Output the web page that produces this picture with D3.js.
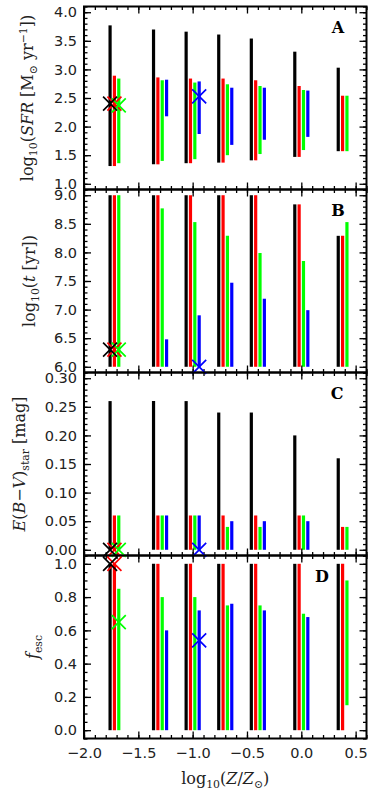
<!DOCTYPE html>
<html>
<head>
<meta charset="utf-8">
<script src="https://cdn.jsdelivr.net/npm/d3@7"></script>
<style>
  body { margin: 0; background: #fff; }
  svg { display: block; }
</style>
</head>
<body>
<svg id="chart" width="382" height="794"></svg>
<script>
// metallicity groups, log10(Z/Zsun), and the 4 model series
const metallicity = [-1.7, -1.3, -1.0, -0.7, -0.4, 0.0, 0.4];
const seriesColors = ["#000000", "#ff0000", "#00ff00", "#0000ff"];
const seriesShift = [-0.06, -0.02, 0.02, 0.06];

// panel A: log10 SFR, [low, high] per metallicity
const sfrBlack = [[1.31,3.77],[1.34,3.70],[1.36,3.66],[1.37,3.61],[1.41,3.54],[1.47,3.31],[1.57,3.03]];
const sfrRed   = [[1.31,2.89],[1.34,2.86],[1.36,2.84],[1.37,2.84],[1.41,2.81],[1.47,2.71],[1.57,2.54]];
const sfrGreen = [[1.36,2.84],[1.40,2.81],[1.43,2.77],[1.50,2.74],[1.52,2.71],[1.59,2.64],[1.57,2.54]];
const sfrBlue  = [null,[2.18,2.82],[1.87,2.79],[1.68,2.68],[1.77,2.68],[1.82,2.63],null];
const sfrMarks = [{s:1,g:0,v:2.40},{s:2,g:0,v:2.37},{s:0,g:0,v:2.40},{s:3,g:2,v:2.53}];

// panel B: log10 age
const ageBlack = [[6,9],[6,9],[6,9],[6,9],[6,9],[6,8.84],[6,8.29]];
const ageRed   = [[6,9],[6,9],[6,9],[6,9],[6,9],[6,8.84],[6,8.29]];
const ageGreen = [[6,9],[6,8.77],[6,8.53],[6,8.29],[6,7.99],[6,7.85],[6,8.53]];
const ageBlue  = [null,[6,6.48],[6,6.90],[6,7.47],[6,7.19],[6,6.99],null];
const ageMarks = [{s:1,g:0,v:6.3},{s:2,g:0,v:6.3},{s:0,g:0,v:6.3},{s:3,g:2,v:6.0}];

// panel C: E(B-V) star
const ebvBlack = [[0,0.26],[0,0.26],[0,0.26],[0,0.24],[0,0.24],[0,0.20],[0,0.16]];
const ebvRed   = [[0,0.06],[0,0.06],[0,0.06],[0,0.06],[0,0.06],[0,0.06],[0,0.04]];
const ebvGreen = [[0,0.06],[0,0.06],[0,0.06],[0,0.04],[0,0.04],[0,0.06],[0,0.04]];
const ebvBlue  = [null,[0,0.06],[0,0.06],[0,0.05],[0,0.05],[0,0.05],null];
const ebvMarks = [{s:1,g:0,v:0},{s:2,g:0,v:0},{s:0,g:0,v:0},{s:3,g:2,v:0}];

// panel D: escape fraction
const fescBlack = [[0,1],[0,1],[0,1],[0,1],[0,1],[0,1],[0,1]];
const fescRed   = [[0,1],[0,1],[0,1],[0,1],[0,1],[0,1],[0,1]];
const fescGreen = [[0,0.85],[0,0.80],[0,0.80],[0,0.75],[0,0.75],[0,0.70],[0.15,0.90]];
const fescBlue  = [null,[0,0.60],[0,0.72],[0,0.76],[0,0.72],[0,0.68],null];
const fescMarks = [{s:1,g:0,v:1.0},{s:2,g:0,v:0.65},{s:0,g:0,v:1.0},{s:3,g:2,v:0.54}];

// tick values
const xTicks = [-2.0, -1.5, -1.0, -0.5, 0.0, 0.5];
const sfrTicks = [1.0, 1.5, 2.0, 2.5, 3.0, 3.5, 4.0];
const ageTicks = [6.0, 6.5, 7.0, 7.5, 8.0, 8.5, 9.0];
const ebvTicks = [0.00, 0.05, 0.10, 0.15, 0.20, 0.25, 0.30];
const fescTicks = [0.0, 0.2, 0.4, 0.6, 0.8, 1.0];

const svg = d3.select("#chart");
const left = 84, right = 366.5, top0 = 6.5, panelH = 183;
const tickFont = "'DejaVu Sans', sans-serif";
const titleFont = "'DejaVu Serif', 'Liberation Serif', serif";

const x = d3.scaleLinear().domain([-2.0, 0.6]).range([left, right]);
const xMinor = d3.range(-20, 7).map(k => k / 10);

const panels = [
  {series:[sfrBlack,sfrRed,sfrGreen,sfrBlue], marks:sfrMarks, domain:[0.9,4.1], ticks:sfrTicks, minor:0.1, fmt:".1f", letter:"A", letterX:338, titleX:33,
   title:[{t:"log"},{t:"10",k:"sub"},{t:"("},{t:"SFR",k:"i"},{t:" [M"},{t:"⊙",k:"sub"},{t:" yr"},{t:"−1",k:"sup"},{t:"])"}]},
  {series:[ageBlack,ageRed,ageGreen,ageBlue], marks:ageMarks, domain:[5.9,9.1], ticks:ageTicks, minor:0.1, fmt:".1f", letter:"B", letterX:338, titleX:35,
   title:[{t:"log"},{t:"10",k:"sub"},{t:"("},{t:"t",k:"i"},{t:" [yr])"}]},
  {series:[ebvBlack,ebvRed,ebvGreen,ebvBlue], marks:ebvMarks, domain:[-0.01,0.31], ticks:ebvTicks, minor:0.01, fmt:".2f", letter:"C", letterX:337, titleX:25,
   title:[{t:"E",k:"i"},{t:"("},{t:"B",k:"i"},{t:"−"},{t:"V",k:"i"},{t:")"},{t:"star",k:"sub"},{t:" [mag]"}]},
  {series:[fescBlack,fescRed,fescGreen,fescBlue], marks:fescMarks, domain:[-0.05,1.05], ticks:fescTicks, minor:0.05, fmt:".1f", letter:"D", letterX:322, titleX:38,
   title:[{t:"f",k:"i"},{t:"esc",k:"sub"}]}
];

function richText(sel, parts, size) {
  let shift = 0;
  parts.forEach(p => {
    const target = p.k === "sub" ? 4 : p.k === "sup" ? -6 : 0;
    const ts = sel.append("tspan").text(p.t).attr("dy", target - shift);
    shift = target;
    if (p.k === "i") ts.attr("font-style", "italic");
    if (p.k === "sub" || p.k === "sup") ts.attr("font-size", size * 0.68);
  });
}

function drawAxis(g, axis) {
  g.call(axis);
  g.select(".domain").remove();
  g.selectAll("line").attr("stroke", "#000").attr("stroke-width", 1.3);
  g.selectAll("text").attr("font-family", tickFont).attr("font-size", 14.5).attr("fill", "#222");
}

panels.forEach((p, i) => {
  const top = top0 + i * panelH;
  const bottom = top + panelH;
  const y = d3.scaleLinear().domain(p.domain).range([bottom, top]);
  const yMinor = d3.range(Math.ceil(p.domain[0] / p.minor - 1e-6), Math.floor(p.domain[1] / p.minor + 1e-6) + 1)
    .map(k => +(k * p.minor).toFixed(3));
  const g = svg.append("g");

  // bars
  p.series.forEach((data, s) => {
    g.append("g").selectAll("line")
      .data(data.map((d, gi) => ({d, gi})).filter(e => e.d))
      .join("line")
      .attr("x1", e => x(metallicity[e.gi] + seriesShift[s]))
      .attr("x2", e => x(metallicity[e.gi] + seriesShift[s]))
      .attr("y1", e => y(e.d[0]))
      .attr("y2", e => y(e.d[1]))
      .attr("stroke", seriesColors[s])
      .attr("stroke-width", 3.2);
  });

  // ticks, inward on all four sides
  const lastPanel = i === panels.length - 1;
  drawAxis(g.append("g").attr("transform", `translate(${left},0)`),
    d3.axisLeft(y).tickValues(p.ticks).tickSizeInner(-7).tickSizeOuter(0).tickPadding(7).tickFormat(d3.format(p.fmt)));
  drawAxis(g.append("g").attr("transform", `translate(${left},0)`),
    d3.axisLeft(y).tickValues(yMinor).tickSizeInner(-3.5).tickSizeOuter(0).tickFormat(""));
  drawAxis(g.append("g").attr("transform", `translate(${right},0)`),
    d3.axisRight(y).tickValues(p.ticks).tickSizeInner(-7).tickSizeOuter(0).tickFormat(""));
  drawAxis(g.append("g").attr("transform", `translate(${right},0)`),
    d3.axisRight(y).tickValues(yMinor).tickSizeInner(-3.5).tickSizeOuter(0).tickFormat(""));
  drawAxis(g.append("g").attr("transform", `translate(0,${bottom})`),
    d3.axisBottom(x).tickValues(xTicks).tickSizeInner(-7).tickSizeOuter(0).tickPadding(9)
      .tickFormat(lastPanel ? d3.format(".1f") : ""));
  drawAxis(g.append("g").attr("transform", `translate(0,${bottom})`),
    d3.axisBottom(x).tickValues(xMinor).tickSizeInner(-3.5).tickSizeOuter(0).tickFormat(""));
  drawAxis(g.append("g").attr("transform", `translate(0,${top})`),
    d3.axisTop(x).tickValues(xTicks).tickSizeInner(-7).tickSizeOuter(0).tickFormat(""));
  drawAxis(g.append("g").attr("transform", `translate(0,${top})`),
    d3.axisTop(x).tickValues(xMinor).tickSizeInner(-3.5).tickSizeOuter(0).tickFormat(""));

  // frame
  g.append("rect")
    .attr("x", left).attr("y", top)
    .attr("width", right - left).attr("height", panelH)
    .attr("fill", "none").attr("stroke", "#000").attr("stroke-width", 2);

  // panel letter
  g.append("text")
    .attr("x", p.letterX).attr("y", top + 26)
    .attr("text-anchor", "middle")
    .attr("font-family", titleFont).attr("font-weight", "bold").attr("font-size", 16)
    .text(p.letter);

  // y title
  const tt = g.append("text")
    .attr("transform", `translate(${p.titleX},${(top + bottom) / 2}) rotate(-90)`)
    .attr("text-anchor", "middle")
    .attr("font-family", titleFont).attr("font-size", 16).attr("fill", "#222");
  richText(tt, p.title, 16);

  // X markers (not clipped)
  svg.append("g").selectAll("path")
    .data(p.marks)
    .join("path")
    .attr("d", m => {
      const cx = x(metallicity[m.g] + seriesShift[m.s]), cy = y(m.v), r = 7;
      return `M${cx - r},${cy - r}L${cx + r},${cy + r}M${cx - r},${cy + r}L${cx + r},${cy - r}`;
    })
    .attr("stroke", m => seriesColors[m.s])
    .attr("stroke-width", 1.7)
    .attr("fill", "none");
});

// x title
const xt = svg.append("text")
  .attr("x", (left + right) / 2).attr("y", 784)
  .attr("text-anchor", "middle")
  .attr("font-family", titleFont).attr("font-size", 16).attr("fill", "#222");
richText(xt, [{t:"log"},{t:"10",k:"sub"},{t:"("},{t:"Z",k:"i"},{t:"/"},{t:"Z",k:"i"},{t:"⊙",k:"sub"},{t:")"}], 16);
</script>
</body>
</html>
